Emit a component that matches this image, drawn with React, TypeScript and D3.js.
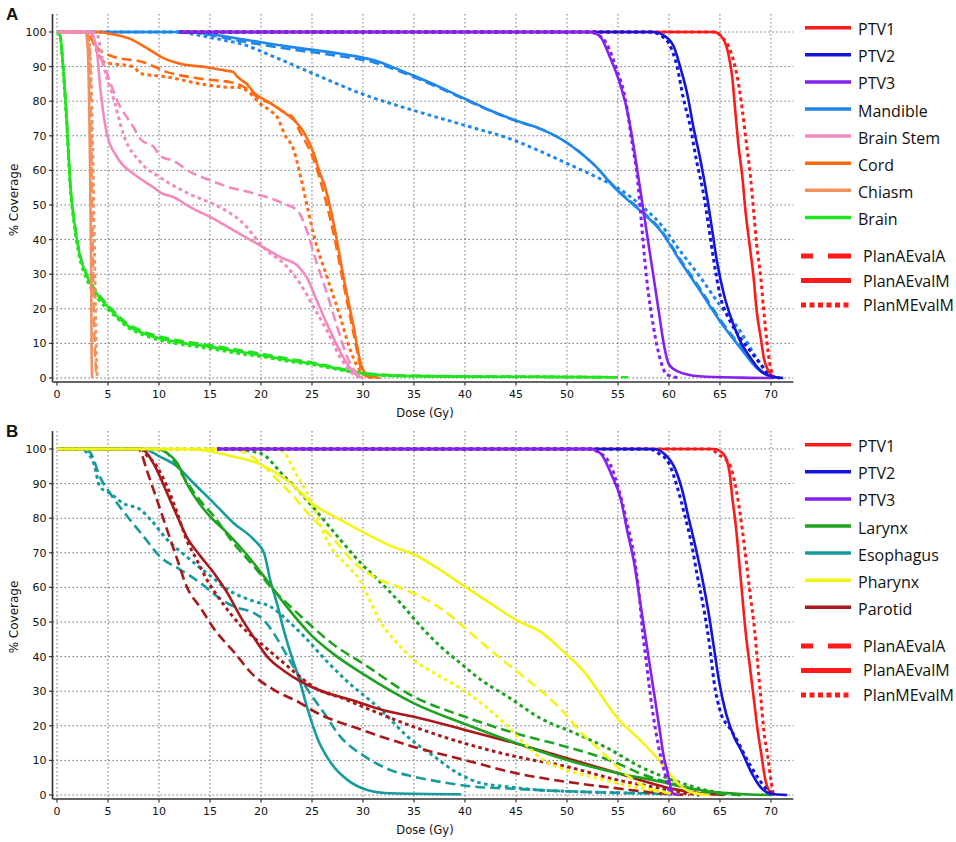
import React from 'react';
import * as d3 from 'd3';

type P = [number, number][];

// ---------------- Panel A data (dose Gy, % coverage) ----------------
const A_PTV1_M: P = [[12,100],[64.4,100],[65.2,98.5],[65.8,94],[66.2,87],[66.5,77.3],[66.8,67.6],[67.2,58],[67.5,48.3],[67.9,38.6],[68.3,29],[68.6,19.3],[69,11.6],[69.3,5.8],[69.8,1.9],[70.3,0]];
const A_PTV1_MM: P = [[12,100],[64.6,100],[65.2,98.5],[66,94.7],[66.7,87],[67.2,77.3],[67.6,67.6],[68,58],[68.3,48.3],[68.6,38.6],[69,29],[69.3,19.3],[69.6,10.6],[69.9,3.9],[70.2,1],[70.4,0]];
const A_PTV2_M: P = [[12,100],[58.5,100],[59.5,99],[60.5,95.6],[61.1,89.9],[61.8,82],[62.4,72.5],[63.1,62.8],[63.7,53],[64.2,43.5],[64.7,33.8],[65.4,24],[66.2,16.4],[67,10.6],[68,5.8],[69,2],[70.3,0.3],[71.2,0]];
const A_PTV2_MM: P = [[12,100],[58.2,100],[59.2,99],[60,96.6],[60.8,89.9],[61.4,81],[62.1,72.5],[62.7,62.8],[63.4,53],[63.9,43.5],[64.4,33.8],[65,24],[66,16.4],[67,11.6],[68,7.7],[69,3.9],[69.9,0.5],[70.3,0]];
const A_PTV3_M: P = [[12,100],[52.3,100],[53.3,98.5],[54.2,92.8],[55.2,85],[55.9,77.3],[56.5,67.6],[57,58],[57.5,48.3],[58,38.6],[58.5,29],[59,19.3],[59.5,9.7],[60,3.9],[60.8,2],[63,0.5],[67,0.1],[70,0]];
const A_PTV3_MM: P = [[12,100],[52,100],[52.8,99.5],[53.9,96.6],[54.9,89],[55.7,81],[56.4,67.6],[56.9,58],[57.2,48.3],[57.8,29],[58.5,14.5],[59.2,4.8],[59.8,1],[61.1,0]];
const A_MAND_A: P = [[0,100],[13,100],[14.7,99.3],[18,97.4],[22.9,95],[27.8,93],[31.1,91.2],[33.7,88.5],[35.3,86.6],[37.6,83.7],[40,80.5],[42.5,77.2],[45,74.3],[47.4,72],[50,68],[52.6,61.8],[55,54.2],[57.2,48.6],[59.2,42.8],[61.1,34.3],[63.1,25.6],[65,17],[67,9.2],[68.6,3.2],[69.9,0.6],[70.9,0]];
const A_MAND_M: P = [[0,100],[13,100],[14.7,99.5],[18,98],[22.9,95.7],[27.8,93.7],[31.1,91.8],[33.7,88.9],[35.3,87],[37.6,84],[40,80.7],[42.5,77.3],[45,74.4],[47.4,72],[50,68],[52.6,61.8],[55,54],[57.2,48.3],[59.2,42.5],[61.1,33.8],[63.1,25],[65,16.4],[67,8.7],[68.6,2.9],[69.9,0.5],[70.9,0]];
const A_MAND_MM: P = [[0,100],[12,100],[13.1,99.5],[16.4,97.6],[18,96.6],[21.3,92.8],[25.1,88],[30,82],[35,77.3],[40,73],[45,68.5],[47.4,65.5],[50,62],[52.6,58.5],[55.2,54.5],[57.2,50],[59.2,44.4],[61.1,36.7],[63.1,29],[65,21],[67,13.5],[68.6,5.8],[69.9,1],[70.9,0]];
const A_STEM_A: P = [[0,100],[3.3,100],[3.6,97.6],[4.9,88],[5.9,80.2],[7.5,72.5],[8.2,69],[9.5,66.7],[10.2,64],[11.4,62.8],[13.1,59.5],[14.7,57.5],[16.4,55.6],[19.6,53.1],[22,50.7],[23.6,48.3],[24.5,42.5],[25.5,32.9],[26.5,24.2],[27.5,14.5],[28.5,5.8],[29.5,1],[30,0]];
const A_STEM_M: P = [[0,100],[3.3,100],[3.9,94.7],[4.2,85],[4.9,70.5],[5.9,63.8],[7.5,59],[8.2,57.5],[9.5,55],[10.2,53.5],[11.4,52.3],[13.1,49.3],[15.1,46.4],[18,41.5],[20.3,37.7],[22,34.8],[23.6,32.4],[24.5,29],[25.5,22.2],[26.8,13.5],[28.1,5.8],[29.1,1.5],[30,0]];
const A_STEM_MM: P = [[0,100],[3.5,100],[3.9,99.5],[4.6,89.9],[5.6,80.2],[6.5,70.5],[8.2,62.3],[10.1,58],[12.1,54.5],[13.1,53],[15.7,49.8],[18,45.4],[20.6,36.7],[22.3,32.9],[23.9,27],[25.2,20.3],[26.5,13.5],[27.8,5.8],[29.1,1],[30,0]];
const A_CORD_A: P = [[0,100],[2.6,100],[2.9,99.5],[4.2,94.7],[5.2,93.2],[7.5,91.8],[8.2,91.5],[10.8,88.4],[14.1,86.5],[17.3,85.3],[17.7,85],[19.3,82],[19.6,81.2],[21.2,79],[22,77.3],[23.2,75],[23.6,72.5],[25.2,62.8],[26.2,53],[27.2,40.6],[28.1,27],[29.1,12.6],[29.8,2.9],[30.4,0.5],[31,0]];
const A_CORD_M: P = [[0,100],[3.9,100],[4.2,100],[5.2,99.5],[7.5,97.6],[8.2,96.4],[9.8,93.5],[10.2,92.8],[12.1,90.8],[14.7,89.8],[16.4,88.9],[17.3,88.4],[17.7,87],[18.6,85],[19.3,82.5],[20.6,80],[22,77.3],[23.6,73.4],[24.2,71],[25.2,64.7],[25.8,59],[26.2,56],[27.2,43.5],[28.1,29],[29.1,14.5],[29.8,3.9],[30.4,1],[31.7,0]];
const A_CORD_MM: P = [[0,100],[3,100],[3.3,98.5],[4.6,91.3],[7.5,89.9],[8.2,88],[10.8,87],[14.1,85],[17.3,84],[17.7,84],[19.3,81.2],[19.6,80.2],[21.3,76.3],[21.6,75.4],[22.3,70.5],[23.2,66],[23.9,58],[24.5,50],[25.2,41],[26.5,29],[27.8,17.4],[28.8,7.7],[29.8,1.9],[30.4,0.5],[31,0]];
const A_CHIA_A: P = [[0,100],[2.9,100],[3.2,95],[3.4,60],[3.6,20],[3.8,3],[3.9,0]];
const A_CHIA_M: P = [[0,100],[2.8,100],[3.0,96],[3.2,70],[3.35,30],[3.4,5],[3.45,0]];
const A_CHIA_MM: P = [[0,100],[3.0,100],[3.3,90],[3.6,50],[3.8,15],[3.9,2],[4.0,0]];
const A_BRAIN_A: P = [[0,100],[0.3,99],[0.6,90],[1,72.5],[1.3,56.5],[1.7,45.5],[2.2,36.5],[3,29.5],[4,24.5],[5,21],[6,18],[7,15.5],[8,14],[10,12],[12,10.8],[15,9.5],[18,8],[20,7],[23,5.4],[25,4.5],[28,2.6],[30,1.5],[33,0.8],[40,0.5],[50,0.3],[56,0.2]];
const A_BRAIN_M: P = [[0,100],[0.3,99],[0.6,90],[1,72],[1.3,56],[1.7,45],[2.2,36],[3,29],[4,24],[5,20.5],[6,17.5],[7,15],[8,13.5],[10,11.5],[12,10.3],[15,9],[18,7.5],[20,6.6],[23,5],[25,4.2],[28,2.4],[30,1.3],[33,0.7],[40,0.4],[50,0.3],[55,0.2]];
const A_BRAIN_MM: P = [[0,100],[0.3,99],[0.6,89],[1,71],[1.3,55],[1.7,44],[2.2,35],[3,28],[4,23],[5,19.8],[6,17],[7,14.5],[8,13],[10,11],[12,9.8],[15,8.5],[18,7],[20,6.2],[23,4.7],[25,3.9],[28,2.2],[30,1.2],[33,0.6],[40,0.4],[50,0.3],[54,0.2]];

// ---------------- Panel B data ----------------
const B_PTV1_M: P = [[15.7,100],[64.4,100],[65.3,98.7],[65.9,93.9],[66.2,86.2],[66.6,76.5],[66.9,66.9],[67.2,57.2],[67.5,47.6],[67.9,37.9],[68.3,28.3],[68.7,18.6],[69.1,10.9],[69.4,5.1],[69.8,1.3],[70.3,0]];
const B_PTV1_MM: P = [[15.7,100],[64,100],[64.9,98.3],[65.9,95.8],[66.6,88.1],[67.2,76.5],[67.6,66.9],[68,57.2],[68.4,47.6],[68.7,37.9],[69,28.3],[69.3,18.6],[69.7,10.9],[70,4.2],[70.2,0.8],[70.4,0]];
const B_PTV2_M: P = [[15.7,100],[58.5,100],[59.5,98.7],[60.5,94.9],[61.3,88.1],[61.9,80.4],[62.6,71.7],[63.3,62.1],[63.9,52.4],[64.4,42.8],[64.9,33.1],[65.6,23.5],[66.4,16.7],[67.1,12.8],[68,7],[69,2.2],[70,0.3],[71.6,0]];
const B_PTV2_MM: P = [[15.7,100],[58,100],[59,98.7],[60,95.8],[60.8,89.1],[61.5,81.4],[62.2,72.7],[62.8,63],[63.5,52.4],[64,42.8],[64.4,33.1],[65.1,23.5],[65.9,19.6],[66.7,15.7],[67.7,10],[68.7,5.1],[69.7,1.3],[70.3,0]];
const B_PTV3_M: P = [[15.7,100],[52.3,100],[53.3,98.7],[54.3,93],[55.3,85.2],[55.9,76.5],[56.6,66.9],[57.1,57.2],[57.6,47.6],[58.1,37.9],[58.6,28.3],[59.1,18.6],[59.5,10.9],[59.9,6.1],[60.1,3],[60.4,0.5],[61,0]];
const B_PTV3_MM: P = [[15.7,100],[52,100],[53,99.2],[54.2,95.8],[55.1,88.1],[55.9,78.5],[56.6,68.8],[57.1,57.2],[57.4,47.6],[57.8,37.9],[58.2,28.3],[58.7,18.6],[59.2,10.9],[59.7,5.1],[60,1.3],[60.3,0]];
const B_LAR_A: P = [[0,100],[10,100],[11.4,96.8],[12.4,92],[13.7,86.3],[15.4,80.5],[17.3,72.8],[19.3,66.1],[21.2,59.3],[23.2,53.6],[25,48.7],[27.1,43.5],[30,38],[35,28.4],[40,22.6],[45,17.8],[50,13.9],[55,9.1],[57.3,6.1],[60.5,3.2],[63.8,0.8],[67,0]];
const B_LAR_M: P = [[0,100],[9.8,100],[10.8,98.8],[11.8,95.9],[12.7,90.1],[13.7,85.3],[15,80.5],[16.7,75.7],[18.6,69.5],[20.6,62],[22.5,54.5],[25,46],[27,41],[30,35],[35,26.5],[40,20.5],[45,15],[50,10.1],[55,6.3],[59.2,3.8],[61,2.5],[64,1],[67,0.3],[70,0]];
const B_LAR_MM: P = [[0,100],[17,100],[20,98.7],[22,93],[23.9,87.2],[25.9,80.4],[27.8,73.7],[29.8,67],[31.8,61.2],[33.7,55.4],[35.7,48.6],[37.6,42.9],[39.6,38],[41.6,33.2],[44.2,28.4],[47.5,22],[50.7,18],[54,13.5],[57.3,8],[60.5,4.2],[63.8,1.3],[67,0]];
const B_ESO_A: P = [[0,100],[2.6,100],[3.3,98.8],[4.2,92],[5.2,87.2],[6.9,80.5],[8.5,74.7],[10.1,68.9],[12.1,65.1],[14.1,61.2],[15.7,57.4],[17.3,54.5],[19.3,52.6],[20.3,50.5],[21.3,46.5],[22.9,38.5],[24.6,30.3],[26.2,23.6],[27.8,16.8],[30.2,11.1],[32.7,7.2],[35,5.3],[37.6,3.8],[40.9,2.4],[44.2,1.9],[47.4,1.4],[50.7,1],[54,0.7],[57.3,0.5],[60,0.3]];
const B_ESO_M: P = [[0,100],[8.2,100],[8.8,99.7],[10.1,97.8],[11.8,94.9],[13.4,90.1],[15.4,84.3],[17.3,78.6],[19.3,73.8],[20.3,69.9],[20.9,62.2],[21.6,55],[22.2,48],[22.9,41],[23.8,33],[24.6,24.5],[25.6,15.9],[26.9,9.1],[28.5,4.3],[30.5,1.4],[32.7,0.5],[39.6,0.2]];
const B_ESO_MM: P = [[0,100],[2.4,100],[2.6,99.7],[3.6,95.9],[4.2,89.1],[5.2,87.2],[6.5,84.3],[8.2,82.4],[9.2,79.5],[10.8,73.8],[12.7,68.9],[14.7,64.1],[17.3,58.4],[19.3,56],[20.9,54.5],[22.5,50.7],[24.5,45],[26.5,38.5],[28.4,33],[31.8,24.5],[34.4,16.8],[37,11.1],[39.3,6.3],[41.6,3.4],[44.2,2.4],[47.4,1.4],[50.7,1],[54,0.7],[57.3,0.5],[60,0.3]];
const B_PHA_A: P = [[0,100],[16.7,100],[18,99.5],[19.9,96],[21.6,91.1],[23.2,86.3],[24.6,81.4],[26.9,74.7],[29.2,67],[31.1,63],[33.4,60.2],[35.7,57.3],[38.3,52.5],[40.6,46.7],[42.9,40.9],[45.2,35.5],[47.5,30],[49.5,24.5],[51.4,18],[53.3,12.8],[55,8],[56.6,4.2],[58.2,1.7],[60,0.5],[61,0]];
const B_PHA_M: P = [[0,100],[12,100],[14.1,99.7],[17.3,97.8],[20,95.5],[22.9,90.1],[25,84.3],[27.8,79.5],[30,76],[32.7,72],[35,69.5],[37.6,65],[40,60.2],[42.5,55.4],[45,50.6],[47.5,47],[50,40.5],[51.7,35.5],[53.3,29],[55,22],[56.6,17.5],[58.6,11.5],[60,6.5],[61,3],[62.2,0.8],[64,0]];
const B_PHA_MM: P = [[0,100],[21.6,100],[22.2,99.2],[23.4,93],[24.2,89],[25.2,83],[26.1,76],[27.1,70.5],[28.4,66.5],[29.7,62],[30.5,57.3],[31.8,49.6],[33.4,43.8],[35,39],[37,35.2],[39.3,31.3],[41.6,26.5],[43.9,20.7],[45.8,15],[47.5,10.5],[50,7.2],[52.4,5.3],[55,3.4],[57.3,1.9],[59.2,1],[61,0]];
const B_PAR_A: P = [[0,100],[8,100],[8.2,99.2],[8.8,93.9],[9.8,85.3],[10.8,76.6],[11.8,68],[12.7,60.3],[14.1,54],[15.4,48],[17.3,41.5],[19.3,34.5],[21.2,30.5],[23.9,26.5],[25,24.5],[30,18.7],[35,13.9],[40,10.1],[45,6.3],[50,3.8],[55,1.9],[59.2,0.5],[62,0]];
const B_PAR_M: P = [[0,100],[8.2,100],[8.8,98.8],[9.8,93.9],[10.8,87.2],[11.8,80.5],[12.7,74.7],[14.1,68.9],[15.4,64.1],[16.7,58.4],[18,51.5],[19.3,45.5],[20.6,40],[22.2,36],[23.9,32.8],[25.8,30.2],[28.8,27.5],[32,24.5],[35,22.6],[40,18.8],[45,14.9],[50,10.6],[55,6.3],[57.3,4.2],[60.5,1.7],[63.1,0.5],[65.4,0]];
const B_PAR_MM: P = [[0,100],[8.3,100],[8.5,99.2],[9.8,94.9],[10.8,89.1],[11.8,81.4],[12.7,73.8],[13.7,68],[14.7,62.2],[16,56.4],[18,49],[19.9,44],[21.9,39],[23.9,34],[25,31.5],[28.4,27.5],[30,25.5],[35,19.7],[40,14.9],[45,11.1],[50,8.2],[55,4.3],[59.2,1.9],[61,0.8],[63,0]];

// ---------------- labels & ticks ----------------
const doseTicks = [0, 5, 10, 15, 20, 25, 30, 35, 40, 45, 50, 55, 60, 65, 70];
const coverageTicks = [0, 10, 20, 30, 40, 50, 60, 70, 80, 90, 100];
const legendA = ['PTV1', 'PTV2', 'PTV3', 'Mandible', 'Brain Stem', 'Cord', 'Chiasm', 'Brain'];
const legendB = ['PTV1', 'PTV2', 'PTV3', 'Larynx', 'Esophagus', 'Pharynx', 'Parotid'];
const planLabels = ['PlanAEvalA', 'PlanAEvalM', 'PlanMEvalM'];

const COLORS: Record<string, string> = {
  PTV1: '#ff1a1a',
  PTV2: '#1414dc',
  PTV3: '#8420f0',
  Mandible: '#1f86ec',
  'Brain Stem': '#f38abf',
  Cord: '#ff6a12',
  Chiasm: '#f2915e',
  Brain: '#22e41e',
  Larynx: '#1ea320',
  Esophagus: '#179b9e',
  Pharynx: '#f4f414',
  Parotid: '#a9181a',
};

type Plan = 'A' | 'M' | 'MM';
type Curve = { organ: string; plan: Plan; data: P };

const curvesA: Curve[] = [
  { organ: 'Mandible', plan: 'MM', data: A_MAND_MM },
  { organ: 'Mandible', plan: 'A', data: A_MAND_A },
  { organ: 'Mandible', plan: 'M', data: A_MAND_M },
  { organ: 'Cord', plan: 'MM', data: A_CORD_MM },
  { organ: 'Cord', plan: 'A', data: A_CORD_A },
  { organ: 'Cord', plan: 'M', data: A_CORD_M },
  { organ: 'Brain', plan: 'MM', data: A_BRAIN_MM },
  { organ: 'Brain', plan: 'A', data: A_BRAIN_A },
  { organ: 'Brain', plan: 'M', data: A_BRAIN_M },
  { organ: 'Chiasm', plan: 'MM', data: A_CHIA_MM },
  { organ: 'Chiasm', plan: 'A', data: A_CHIA_A },
  { organ: 'Chiasm', plan: 'M', data: A_CHIA_M },
  { organ: 'Brain Stem', plan: 'MM', data: A_STEM_MM },
  { organ: 'Brain Stem', plan: 'A', data: A_STEM_A },
  { organ: 'Brain Stem', plan: 'M', data: A_STEM_M },
  { organ: 'PTV1', plan: 'MM', data: A_PTV1_MM },
  { organ: 'PTV1', plan: 'M', data: A_PTV1_M },
  { organ: 'PTV2', plan: 'MM', data: A_PTV2_MM },
  { organ: 'PTV2', plan: 'M', data: A_PTV2_M },
  { organ: 'PTV3', plan: 'MM', data: A_PTV3_MM },
  { organ: 'PTV3', plan: 'M', data: A_PTV3_M },
];

const curvesB: Curve[] = [
  { organ: 'Esophagus', plan: 'MM', data: B_ESO_MM },
  { organ: 'Esophagus', plan: 'A', data: B_ESO_A },
  { organ: 'Esophagus', plan: 'M', data: B_ESO_M },
  { organ: 'Parotid', plan: 'MM', data: B_PAR_MM },
  { organ: 'Parotid', plan: 'A', data: B_PAR_A },
  { organ: 'Parotid', plan: 'M', data: B_PAR_M },
  { organ: 'Larynx', plan: 'MM', data: B_LAR_MM },
  { organ: 'Larynx', plan: 'A', data: B_LAR_A },
  { organ: 'Larynx', plan: 'M', data: B_LAR_M },
  { organ: 'Pharynx', plan: 'MM', data: B_PHA_MM },
  { organ: 'Pharynx', plan: 'A', data: B_PHA_A },
  { organ: 'Pharynx', plan: 'M', data: B_PHA_M },
  { organ: 'PTV1', plan: 'MM', data: B_PTV1_MM },
  { organ: 'PTV1', plan: 'M', data: B_PTV1_M },
  { organ: 'PTV2', plan: 'MM', data: B_PTV2_MM },
  { organ: 'PTV2', plan: 'M', data: B_PTV2_M },
  { organ: 'PTV3', plan: 'MM', data: B_PTV3_MM },
  { organ: 'PTV3', plan: 'M', data: B_PTV3_M },
];

const planStyle: Record<Plan, { dash: string; width: number }> = {
  A: { dash: '10,5', width: 2.6 },
  M: { dash: 'none', width: 2.6 },
  MM: { dash: '3.6,3.4', width: 3 },
};

const TICK_FONT = '"DejaVu Sans", Verdana, sans-serif';
const LEGEND_FONT = '"Open Sans", "Noto Sans", sans-serif';

function Panel({ offset, label, curves, legend }: { offset: number; label: string; curves: Curve[]; legend: string[] }) {
  const x = d3.scaleLinear().domain([0, 72.2]).range([57, 793.4]);
  const y = d3.scaleLinear().domain([0, 105.2]).range([378 + offset, 14 + offset]);
  const line = d3
    .line<[number, number]>()
    .x((d) => x(d[0]))
    .y((d) => y(d[1]))
    .curve(d3.curveMonotoneX);
  const top = y(105.2);
  const axisY = y(0) + 4;
  const axisX = 52.5;
  const right = x(72.2);
  const gridColor = '#6e6e6e';

  const organRow = (i: number) => 27.7 + offset + 27.1 * i;
  const planStart = organRow(legend.length - 1) + 38.6;

  return (
    <g>
      <text x={6} y={20 + offset} fontFamily="Arial, Liberation Sans, sans-serif" fontWeight="bold" fontSize={17} fill="#111">
        {label}
      </text>
      {/* grid */}
      {doseTicks.map((t) => (
        <line key={'gv' + t} x1={x(t)} x2={x(t)} y1={top} y2={axisY} stroke={gridColor} strokeWidth={1} strokeDasharray="1.5,2.5" />
      ))}
      {coverageTicks.map((t) => (
        <line key={'gh' + t} x1={axisX} x2={right} y1={y(t)} y2={y(t)} stroke={gridColor} strokeWidth={1} strokeDasharray="1.5,2.5" />
      ))}
      {/* axes */}
      <line x1={axisX} x2={axisX} y1={top} y2={axisY} stroke="#333" strokeWidth={1.6} />
      <line x1={axisX} x2={right} y1={axisY} y2={axisY} stroke="#333" strokeWidth={1.6} />
      {coverageTicks.map((t) => (
        <g key={'yt' + t}>
          <line x1={axisX - 3.5} x2={axisX} y1={y(t)} y2={y(t)} stroke="#333" strokeWidth={1.2} />
          <text x={axisX - 6} y={y(t) + 4} textAnchor="end" fontFamily={TICK_FONT} fontSize={11} fill="#111">
            {t}
          </text>
        </g>
      ))}
      {doseTicks.map((t) => (
        <g key={'xt' + t}>
          <line x1={x(t)} x2={x(t)} y1={axisY} y2={axisY + 3.5} stroke="#333" strokeWidth={1.2} />
          <text x={x(t)} y={axisY + 16} textAnchor="middle" fontFamily={TICK_FONT} fontSize={11} fill="#111">
            {t}
          </text>
        </g>
      ))}
      <text x={425} y={axisY + 35} textAnchor="middle" fontFamily={TICK_FONT} fontSize={11.5} fill="#111">
        Dose (Gy)
      </text>
      <text
        transform={`translate(18, ${200 + offset}) rotate(-90)`}
        textAnchor="middle"
        fontFamily={TICK_FONT}
        fontSize={12}
        fill="#111"
      >
        % Coverage
      </text>
      {/* curves */}
      {curves.map((c, i) => (
        <path
          key={'c' + i}
          d={line(c.data) || ''}
          fill="none"
          stroke={COLORS[c.organ]}
          strokeWidth={planStyle[c.plan].width}
          strokeDasharray={planStyle[c.plan].dash}
          strokeLinejoin="round"
        />
      ))}
      {/* legend */}
      {legend.map((name, i) => (
        <g key={'lg' + name}>
          <line x1={805} x2={851} y1={organRow(i)} y2={organRow(i)} stroke={COLORS[name]} strokeWidth={3.5} />
          <text x={858} y={organRow(i) + 7.5} fontFamily={LEGEND_FONT} fontSize={16} fill="#111">
            {name}
          </text>
        </g>
      ))}
      {planLabels.map((name, j) => {
        const yy = planStart + 24.5 * j;
        const dash = j === 0 ? '12,15,25' : j === 1 ? 'none' : '5,3.5';
        return (
          <g key={'pl' + name}>
            <line x1={801} x2={851} y1={yy} y2={yy} stroke="#ff1a1a" strokeWidth={j === 1 ? 5 : 5} strokeDasharray={dash} />
            <text x={863} y={yy + 6} fontFamily={LEGEND_FONT} fontSize={16} fill="#111">
              {name}
            </text>
          </g>
        );
      })}
    </g>
  );
}

export default function App() {
  return (
    <svg
      width={956}
      height={842}
      viewBox="0 0 956 842"
      style={{ position: 'absolute', left: 0, top: 0, background: '#fff' }}
    >
      <rect x={0} y={0} width={956} height={842} fill="#fff" />
      <Panel offset={0} label="A" curves={curvesA} legend={legendA} />
      <Panel offset={417} label="B" curves={curvesB} legend={legendB} />
    </svg>
  );
}
